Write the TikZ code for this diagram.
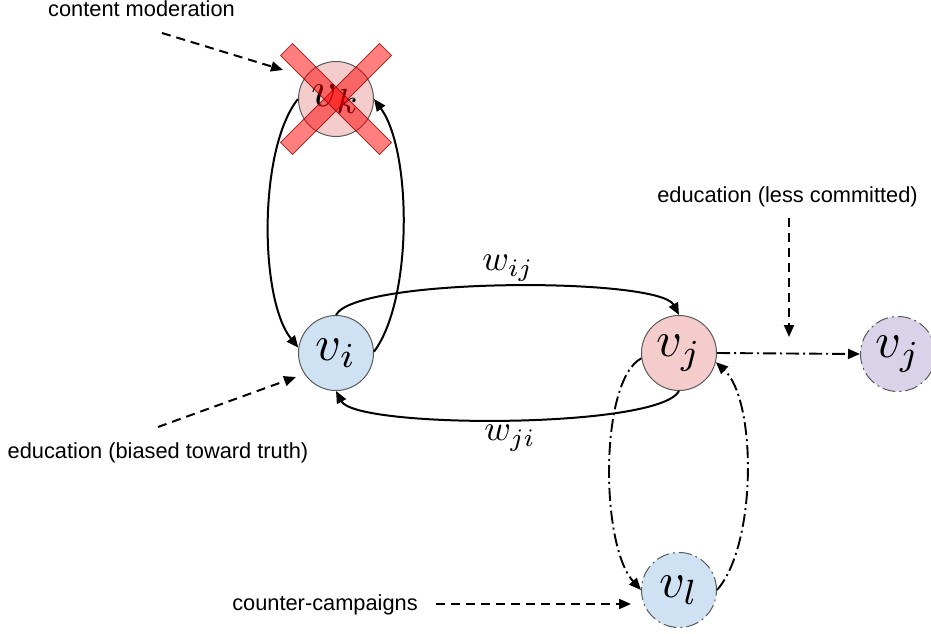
\documentclass[tikz,border=0pt]{standalone}
\usepackage{graphicx}
\usepackage{fontspec}
\setmainfont{Liberation Sans}
\usetikzlibrary{arrows.meta}
\definecolor{nodeblue}{HTML}{CFE2F3}
\definecolor{nodepink}{HTML}{F4CCCC}
\definecolor{nodepurple}{HTML}{D9D2E9}
\definecolor{nodeborder}{HTML}{595959}
\newcommand{\vsym}[1]{\scalebox{5.0}{$#1$}}
\newcommand{\wsym}[1]{\scalebox{3.6}{$#1$}}
\tikzset{
  vnode/.style={circle, draw=nodeborder, line width=1pt, minimum size=75pt, inner sep=0pt},
  dashdotline/.style={dash pattern=on 13pt off 4pt on 2pt off 4pt},
  tip/.style={-{Triangle[length=12pt,width=10pt]}},
  edge/.style={tip, line width=2pt},
  ddedge/.style={tip, line width=1.9pt, dashdotline},
  annot/.style={tip, line width=2pt, dash pattern=on 9pt off 6pt},
  lab/.style={font=\fontsize{21.8}{21.8}\selectfont, inner sep=0pt, anchor=base},
  wlab/.style={inner sep=0pt},
  xbar/.style={rectangle, minimum width=140pt, minimum height=17pt, inner sep=0pt,
    fill=red, fill opacity=0.5, draw=red!50!black, draw opacity=0.7, line width=0.8pt}
}
\begin{document}
\begin{tikzpicture}[x=1pt,y=-1pt]
\path[use as bounding box] (0,0) rectangle (931,634);

\node[vnode, fill=nodepink] (vk) at (336,99) {\vsym{v_k}};
\node[vnode, fill=nodeblue] (vi) at (336,353) {\vsym{v_i}};
\node[vnode, fill=nodepink] (vj) at (679,353) {\vsym{v_j}};
\node[vnode, fill=nodepurple, dashdotline] (vj2) at (898,354) {\vsym{v_j}};
\node[vnode, fill=nodeblue, dashdotline] (vl) at (679,590) {\vsym{v_l}};

\node[xbar, rotate=45] (crossA) at (vk) {};
\node[xbar, rotate=-45] (crossB) at (vk) {};

% solid edges
\draw[edge] (vk.west) .. controls +(-40,50) and +(-39,-48) .. (vi.172);
\draw[edge] (vi.2) .. controls +(39,-52) and +(38,52) .. (vk.east);
\draw[edge] (vi.north) .. controls +(20,-38) and +(-20,-38) .. (vj.north);
\draw[edge] (vj.south) .. controls +(-20,38) and +(20,38) .. (vi.south);

\node[wlab] (wij) at (508,268) {\wsym{w_{ij}}};
\node[wlab] (wji) at (510,438) {\wsym{w_{ji}}};

% dash-dot edges
\draw[ddedge] (vj.188) .. controls +(-42,22) and +(-41,-45) .. (vl.west);
\draw[ddedge] (vl.east) .. controls +(40,-45) and +(41,38) .. (vj.-14);
\draw[ddedge] (vj.east) -- (vj2.west);

% annotations
\node[lab] (tcm) at (141.5,17) {content moderation};
\node[lab] (tbias) at (158,458) {education (biased toward truth)};
\node[lab] (tless) at (787.5,202) {education (less committed)};
\node[lab] (tcc) at (325,610) {counter-campaigns};

\coordinate (cmS) at (162,33);
\coordinate (cmE) at (283,70);
\coordinate (biS) at (158,427);
\coordinate (biE) at (296,377);
\coordinate (lcS) at (789,218);
\coordinate (lcE) at (789,337);
\coordinate (ccS) at (436,604);
\coordinate (ccE) at (631,604);
\draw[annot] (cmS) -- (cmE);
\draw[annot] (biS) -- (biE);
\draw[annot] (lcS) -- (lcE);
\draw[annot] (ccS) -- (ccE);
\end{tikzpicture}
\end{document}
